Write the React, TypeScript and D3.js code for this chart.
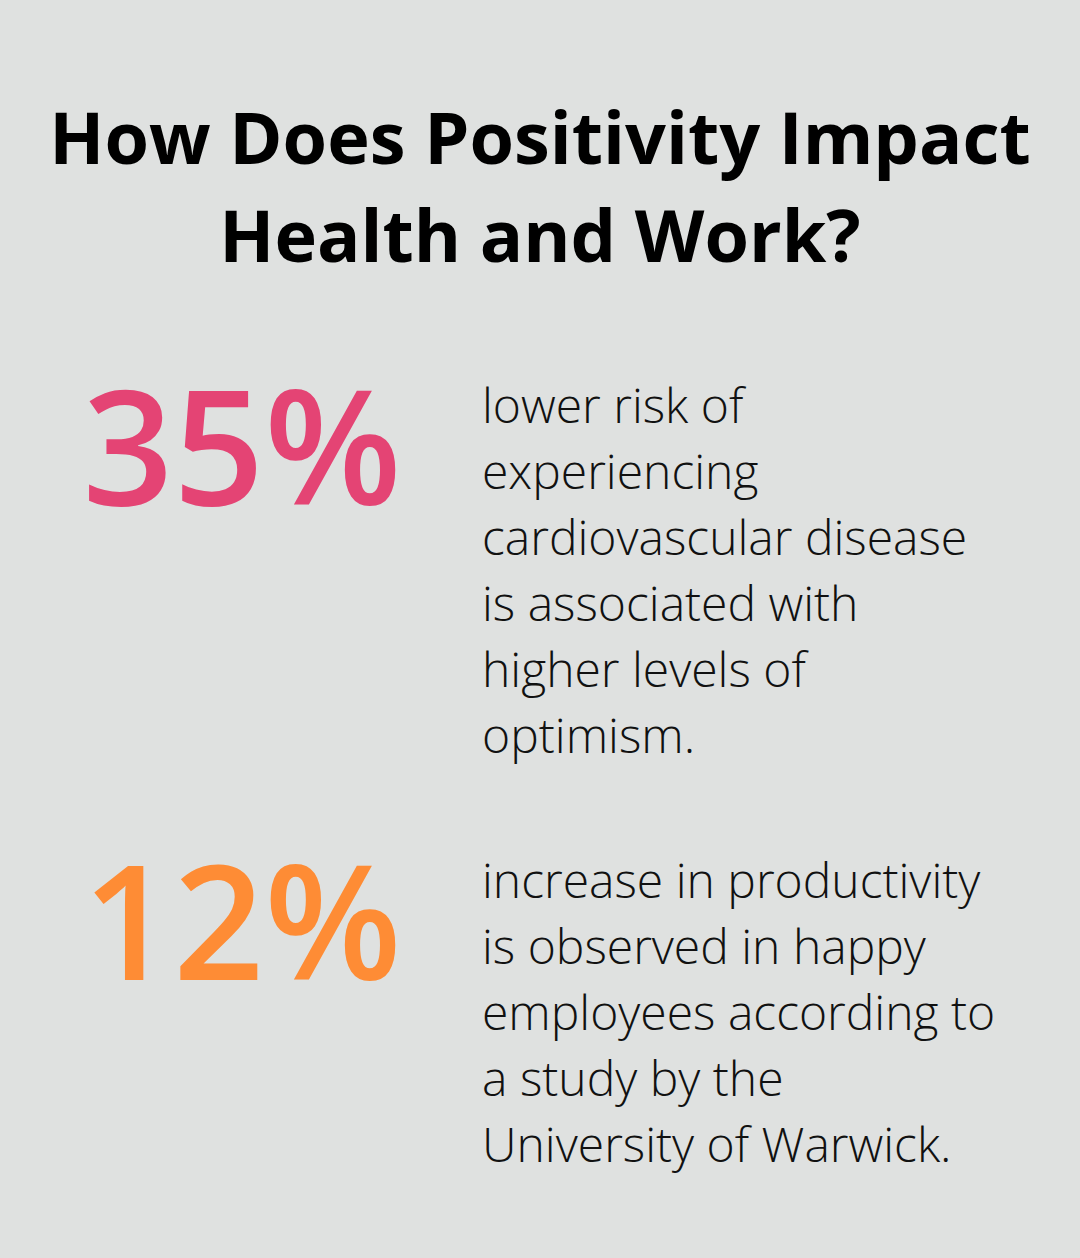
import React from "react";
import * as d3 from "d3";

const titleLines = ["How Does Positivity Impact", "Health and Work?"];
const statValues = ["35%", "12%"];
const statColors = ["#e44474", "#fe8c35"];
const statDescriptions = [
  ["lower risk of", "experiencing", "cardiovascular disease", "is associated with", "higher levels of", "optimism."],
  ["increase in productivity", "is observed in happy", "employees according to", "a study by the", "University of Warwick."],
];

const W = 1080;
const H = 1258;

export default function App() {
  const blockY = d3.scaleOrdinal<number, number>().domain([0, 1]).range([505, 980]);
  const descY = d3.scaleOrdinal<number, number>().domain([0, 1]).range([423, 898]);
  const lineH = 66;
  return (
    <svg width={W} height={H} style={{ position: "absolute", left: 0, top: 0 }} fontFamily="'Open Sans', sans-serif">
      <rect x={0} y={0} width={W} height={H} fill="#dfe1e0" />
      {titleLines.map((t, i) => (
        <text key={i} x={540} y={164 + i * 98} textAnchor="middle" fontSize={72} fontWeight={700} fill="#000">
          {t}
        </text>
      ))}
      {statValues.map((v, i) => (
        <g key={i}>
          <text x={242} y={blockY(i)} textAnchor="middle" fontSize={159} fontWeight={600} fill={statColors[i]}>
            {v}
          </text>
          {statDescriptions[i].map((l, j) => (
            <text key={j} x={482} y={descY(i) + j * lineH} fontSize={48} fontWeight={300} fill="#111">
              {l}
            </text>
          ))}
        </g>
      ))}
    </svg>
  );
}
